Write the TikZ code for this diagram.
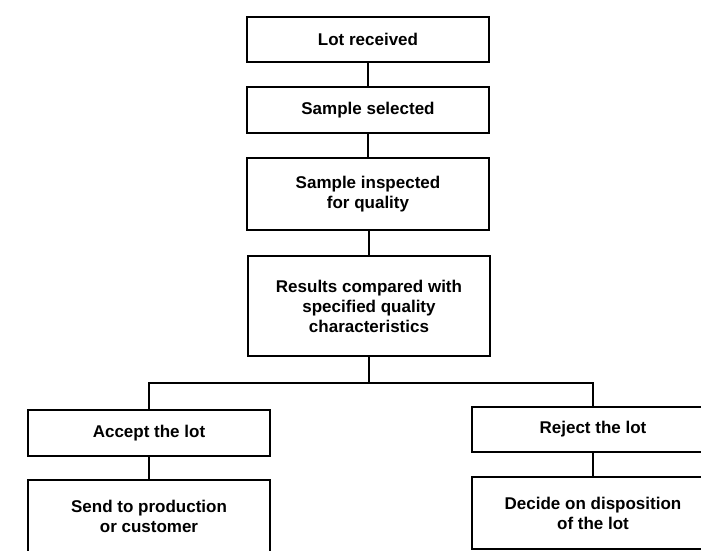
\documentclass[tikz,border=0pt]{standalone}
\usepackage{fontspec}
\setmainfont{Liberation Sans}
\usetikzlibrary{positioning}

\begin{document}
\begin{tikzpicture}[x=1pt, y=-1pt,
    stage/.style={rectangle, draw, line width=2.8pt, minimum width=242pt,
        align=center, inner sep=0pt, font=\fontsize{17}{20}\selectfont\bfseries},
    link/.style={line width=2.8pt}]
    \useasboundingbox (0,0) rectangle (701,551);
    \clip (0,0) rectangle (701,551);

    \node[stage, minimum height=45pt] (lot) at (368,39.5) {Lot received};
    \node[stage, minimum height=46pt] (sample) at (368,110) {Sample selected};
    \node[stage, minimum height=72pt] (inspect) at (368,194) {Sample inspected\\for quality};
    \node[stage, minimum height=100pt] (results) at (369,306) {Results compared with\\specified quality\\characteristics};

    \node[stage, minimum height=46pt] (accept) at (149,433) {Accept the lot};
    \node[stage, minimum height=72pt] (send) at (149,516) {Send to production\\or customer};
    \node[stage, minimum height=45pt] (reject) at (593,429.5) {Reject the lot};
    \node[stage, minimum height=72pt] (decide) at (593,513) {Decide on disposition\\of the lot};

    \coordinate (split) at (369,383);

    \draw[link] (lot) -- (sample);
    \draw[link] (sample) -- (inspect);
    \draw[link] (inspect.south -| results) -- (results);
    \draw[link] (results) -- (split);
    \draw[link] (accept.north) |- (split) -| (reject.north);
    \draw[link] (accept) -- (send);
    \draw[link] (reject) -- (decide);
\end{tikzpicture}
\end{document}
